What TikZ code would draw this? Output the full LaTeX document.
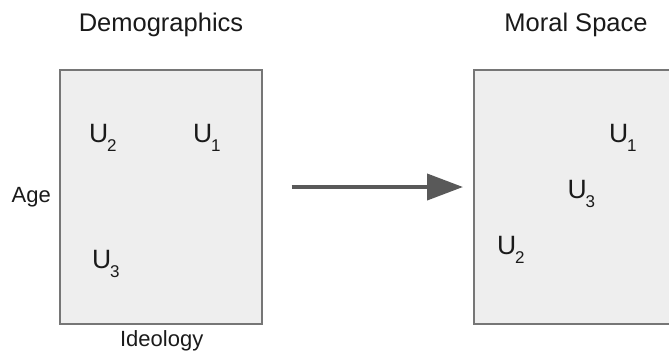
\documentclass[tikz,border=0pt]{standalone}
\usepackage{fontspec}
\setmainfont{Liberation Sans}
\usetikzlibrary{arrows.meta}
\definecolor{boxfill}{HTML}{EEEEEE}
\definecolor{boxline}{HTML}{767676}
\definecolor{arrowcol}{HTML}{595959}
\definecolor{textcol}{HTML}{1A1A1A}
\newcommand{\Ulab}[1]{{\fontsize{26.5}{26.5}\selectfont U}\kern-1.2pt\raisebox{-9.5pt}{\fontsize{17}{17}\selectfont #1}}
\tikzset{
  panel/.style={draw=boxline, fill=boxfill, line width=1.5pt, inner sep=0pt},
  title/.style={font=\fontsize{25.5}{25.5}\selectfont, text=textcol, anchor=base, inner sep=0pt},
  axislab/.style={font=\fontsize{22}{22}\selectfont, text=textcol, anchor=base, inner sep=0pt},
  ulab/.style={anchor=base west, text=textcol, inner sep=0pt},
  bigarrow/.style={draw=arrowcol, line width=4pt, -{Triangle[length=36pt, width=26pt]}}
}
\begin{document}
\begin{tikzpicture}[x=1pt,y=-1pt]
  \useasboundingbox (0,0) rectangle (669,351);
  \clip (0,0) rectangle (669,351);
  \node[panel, minimum width=202pt, minimum height=254pt] (demo) at (161,197) {};
  \node[panel, minimum width=210pt, minimum height=254pt] (moral) at (579,197) {};
  \node[title] (t1) at (161,31.7) {Demographics};
  \node[title] (t2) at (576,31.7) {Moral Space};
  \node[axislab] (age) at (31.3,202.5) {Age};
  \node[axislab] (ideo) at (161.7,346) {Ideology};
  \node[ulab] (l2) at (89,142.3) {\Ulab{2}};
  \node[ulab] (l1) at (193,142) {\Ulab{1}};
  \node[ulab] (l3) at (92,268) {\Ulab{3}};
  \node[ulab] (r1) at (609,142) {\Ulab{1}};
  \node[ulab] (r3) at (567.5,198) {\Ulab{3}};
  \node[ulab] (r2) at (497,254) {\Ulab{2}};
  \coordinate (a1) at (291.7,187);
  \coordinate (a2) at (463,187);
  \draw[bigarrow] (a1) -- (a2);
\end{tikzpicture}
\end{document}
